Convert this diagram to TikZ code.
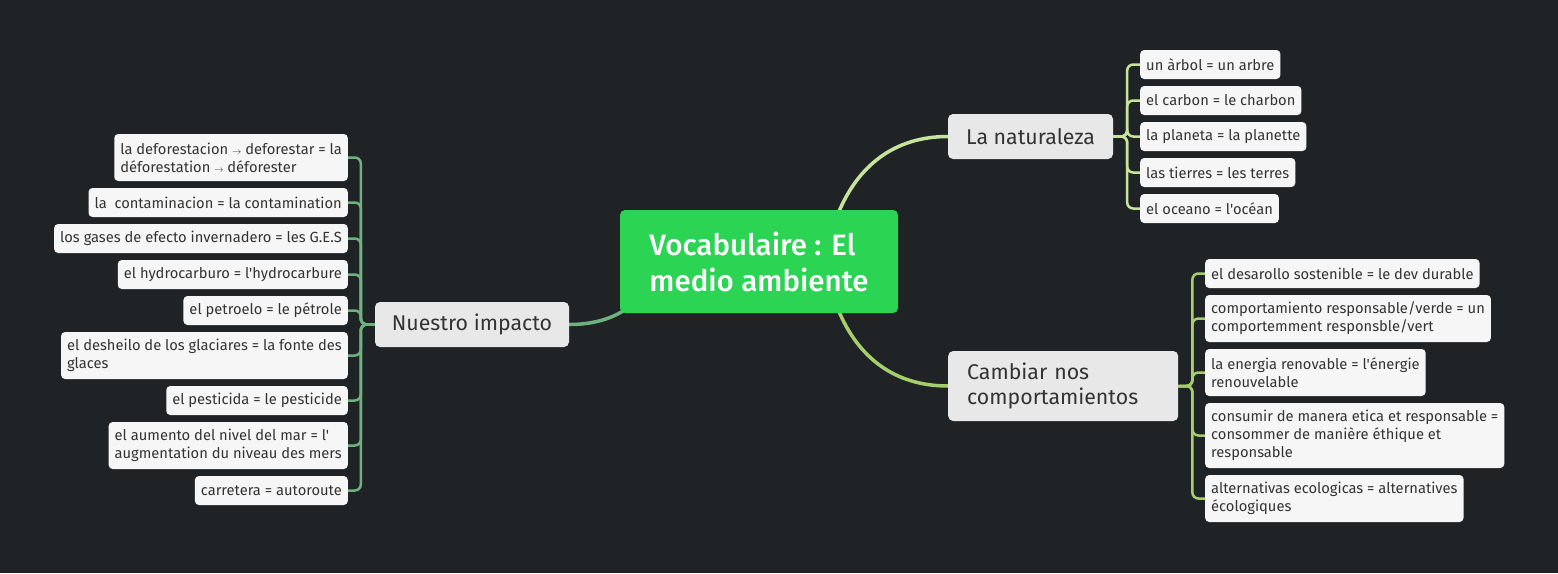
\documentclass[tikz,border=0pt]{standalone}
\usepackage{fontspec}
\newfontfamily\leaffont{Fira Sans}
\newfontfamily\rootfont{Fira Sans Medium}
\usetikzlibrary{positioning}

\definecolor{bgdark}{HTML}{202326}
\definecolor{rootgreen}{HTML}{2BD453}
\definecolor{topicgray}{HTML}{E8E8E8}
\definecolor{leafwhite}{HTML}{F6F6F6}
\definecolor{inkgray}{HTML}{333333}
\definecolor{linkleft}{HTML}{6DB27F}
\definecolor{linktop}{HTML}{C6E49C}
\definecolor{linkbot}{HTML}{A6CF6C}

\pgfdeclarelayer{back}
\pgfdeclarelayer{links}
\pgfsetlayers{back,links,main}

\newcommand\smallarrow{{\fontsize{9pt}{9pt}\selectfont$\rightarrow$}}

\begin{document}
\begin{tikzpicture}[x=1pt,y=-1pt,
  root/.style={fill=rootgreen,rounded corners=5pt,text=white,align=left,
    font=\rootfont\fontsize{29.5pt}{36pt}\selectfont,minimum width=278pt,minimum height=103pt},
  topic/.style={fill=topicgray,rounded corners=5pt,text=inkgray,align=left,
    font=\leaffont\fontsize{21.3pt}{25pt}\selectfont,minimum height=45pt},
  leaf/.style={fill=leafwhite,rounded corners=4pt,text=inkgray,align=left,
    font=\leaffont\fontsize{14.7pt}{18pt}\selectfont,inner xsep=6pt,inner ysep=0pt,minimum height=29pt},
  two lines/.style={minimum height=47pt},
  three lines/.style={minimum height=65pt},
  mainlink/.style={line width=3.5pt},
  twig/.style={line width=2.5pt,rounded corners=6pt}]
\begin{pgfonlayer}{back}
\fill[bgdark] (0,0) rectangle (1558,573);
\end{pgfonlayer}
\path
(759,261.5) node[root] (root) {Vocabulaire : El\\medio ambiente}
(1030.5,136.5) node[topic,minimum width=165pt] (nature) {La naturaleza}
(948,386) node[topic,anchor=west,text width=192pt,inner xsep=19pt,minimum height=70pt] (change) {Cambiar nos\\comportamientos}
(472,324.5) node[topic,minimum width=194pt] (impact) {Nuestro impacto};
% La naturaleza
\path
(1140,64.5) node[leaf,anchor=west] (tree) {un àrbol = un arbre}
(1140,100.5) node[leaf,anchor=west] (coal) {el carbon = le charbon}
(1140,136.5) node[leaf,anchor=west] (planet) {la planeta = la planette}
(1140,172.5) node[leaf,anchor=west] (lands) {las tierres = les terres}
(1140,208.5) node[leaf,anchor=west] (ocean) {el oceano = l'océan};
% Cambiar nos comportamientos
\path
(1205,273.5) node[leaf,anchor=west] (durable) {el desarollo sostenible = le dev durable}
(1205,318.5) node[leaf,two lines,anchor=west] (green) {comportamiento responsable/verde = un\\comportemment responsble/vert}
(1205,372.5) node[leaf,two lines,anchor=west] (energy) {la energia renovable = l'énergie\\renouvelable}
(1205,435.5) node[leaf,three lines,anchor=west] (ethics) {consumir de manera etica et responsable =\\consommer de manière éthique et\\responsable}
(1205,498.5) node[leaf,two lines,anchor=west] (eco) {alternativas ecologicas = alternatives\\écologiques};
% Nuestro impacto
\path
(348,157.5) node[leaf,two lines,anchor=east] (deforest) {la deforestacion \smallarrow{} deforestar = la\\déforestation \smallarrow{} déforester}
(348,202.5) node[leaf,anchor=east] (contam) {la~ contaminacion = la contamination}
(348,238.5) node[leaf,anchor=east] (gases) {los gases de efecto invernadero = les G.E.S}
(348,274.5) node[leaf,anchor=east] (hydro) {el hydrocarburo = l'hydrocarbure}
(348,310.5) node[leaf,anchor=east] (petrol) {el petroelo = le pétrole}
(348,355.5) node[leaf,two lines,anchor=east] (thaw) {el desheilo de los glaciares = la fonte des\\glaces}
(348,400.5) node[leaf,anchor=east] (pest) {el pesticida = le pesticide}
(348,445.5) node[leaf,two lines,anchor=east] (sea) {el aumento del nivel del mar = l'\\augmentation du niveau des mers}
(348,490.5) node[leaf,anchor=east] (road) {carretera = autoroute};
\begin{pgfonlayer}{links}
\draw[mainlink,linktop] ([xshift=79pt,yshift=-4pt]root.north) .. controls (858,165) and (895,136.5) .. (nature.west);
\draw[mainlink,linkbot] ([xshift=79pt,yshift=4pt]root.south) .. controls (858,358) and (895,386) .. (change.west);
\draw[mainlink,linkleft] ([xshift=6pt,yshift=4pt]root.south west) .. controls (610,320) and (590,324.5) .. (impact.east);
\foreach \leaf in {tree,coal,planet,lands,ocean}
  \draw[twig,linktop] (nature.east) -- ++(14,0) |- (\leaf.west);
\foreach \leaf in {durable,green,energy,ethics,eco}
  \draw[twig,linkbot] (change.east) -- ++(14,0) |- (\leaf.west);
\foreach \leaf in {deforest,contam,gases,hydro,petrol,thaw,pest,sea,road}
  \draw[twig,linkleft] (impact.west) -- ++(-14,0) |- (\leaf.east);
\end{pgfonlayer}
\end{tikzpicture}
\end{document}
